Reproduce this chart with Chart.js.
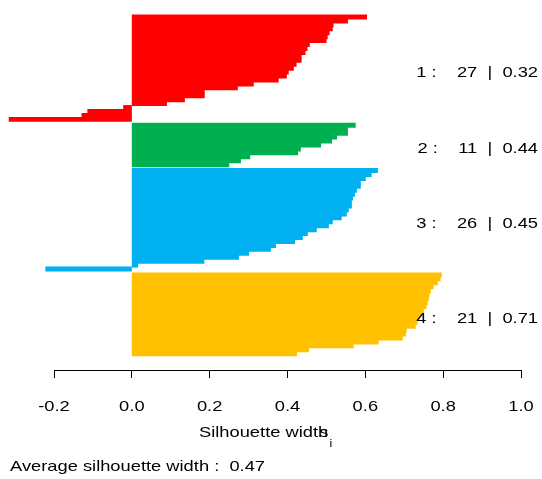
<!DOCTYPE html>
<html>
<head>
<meta charset="utf-8">
<script src="https://cdn.jsdelivr.net/npm/chart.js@4"></script>
<style>
  html, body { margin: 0; padding: 0; background: #fff; }
  canvas { display: block; }
</style>
</head>
<body>
<canvas id="sil" width="542" height="479"></canvas>
<script>
// silhouette widths per cluster, sorted as in the plot (top to bottom)
let clus1 = [0.603, 0.554, 0.517, 0.515, 0.507, 0.502, 0.499, 0.456, 0.450, 0.445, 0.435, 0.435, 0.422, 0.415,
    0.402, 0.397, 0.376, 0.312, 0.271, 0.186, 0.186, 0.135, 0.089, -0.021, -0.113, -0.128, -0.315];
let clus2 = [0.574, 0.554, 0.554, 0.526, 0.513, 0.485, 0.433, 0.426, 0.303, 0.279, 0.249];
let clus3 = [0.631, 0.615, 0.600, 0.587, 0.587, 0.577, 0.572, 0.567, 0.564, 0.564, 0.556, 0.551, 0.538, 0.515,
    0.505, 0.474, 0.451, 0.438, 0.418, 0.369, 0.356, 0.300, 0.274, 0.185, 0.015, -0.221];
let clus4 = [0.795, 0.792, 0.785, 0.774, 0.767, 0.764, 0.762, 0.759, 0.756, 0.749, 0.744, 0.738, 0.733, 0.728,
    0.705, 0.703, 0.695, 0.633, 0.569, 0.454, 0.423];

let clusNames = ["1", "2", "3", "4"];
let clusAvg = ["0.32", "0.44", "0.45", "0.71"];
let clusColors = ["#FF0000", "#00B050", "#00B0F0", "#FFC000"];
let avgWidth = "0.47";
let xTicks = [-0.2, 0.0, 0.2, 0.4, 0.6, 0.8, 1.0];

let SX = 1.22;   // the reference text is drawn a bit wide
let FONT = '"Liberation Sans", Arial, Helvetica, sans-serif';

// bar positions: one unit per bar, half a unit between clusters
let allClus = [clus1, clus2, clus3, clus4];
let datasets = [];
let centers = [];
let pos = 0;
allClus.forEach((vals, k) => {
    if (k > 0) pos += 0.5;
    let start = pos;
    let pts = vals.map(v => {
        let p = {x: v, y: pos + 0.5};
        pos += 1;
        return p;
    });
    centers.push((start + pos) / 2);
    datasets.push({
        label: "Cluster " + clusNames[k],
        data: pts,
        backgroundColor: clusColors[k],
        borderWidth: 0,
        inflateAmount: 0.5,
        grouped: false,
        barPercentage: 1,
        categoryPercentage: 1,
        clip: false
    });
});

function wideText(ctx, s, x, y, align, size) {
    ctx.save();
    ctx.font = size + "px " + FONT;
    ctx.textAlign = align;
    ctx.textBaseline = "alphabetic";
    ctx.fillStyle = "#000";
    ctx.translate(x, y);
    ctx.scale(SX, 1);
    ctx.fillText(s, 0, 0);
    ctx.restore();
}

let textPlugin = {
    id: "silText",
    afterDraw(chart) {
        let ctx = chart.ctx;
        let xs = chart.scales.x, ys = chart.scales.y;

        // tick labels
        xTicks.forEach(t => {
            wideText(ctx, t.toFixed(1), xs.getPixelForValue(t), 411, "center", 15);
        });

        // cluster labels on the right
        centers.forEach((c, k) => {
            let y = ys.getPixelForValue(c) + 8.4;
            let s = clusNames[k] + " :    " + allClus[k].length + "  |  " + clusAvg[k];
            wideText(ctx, s, 538, y, "right", 15);
        });

        // axis title  "Silhouette width s_i"
        wideText(ctx, "Silhouette width", 199, 437, "left", 15);
        wideText(ctx, "s", 328.5, 437, "right", 15);
        wideText(ctx, "i", 329.5, 447, "left", 10);

        wideText(ctx, "Average silhouette width :  " + avgWidth, 10, 471, "left", 15);
    }
};

new Chart(document.getElementById("sil"), {
    type: "bar",
    data: { datasets: datasets },
    options: {
        indexAxis: "y",
        responsive: false,
        animation: false,
        devicePixelRatio: 1,
        layout: { padding: { left: 54, right: 21, top: 15, bottom: 101 } },
        plugins: {
            legend: { display: false },
            tooltip: { enabled: false }
        },
        scales: {
            y: {
                type: "linear",
                reverse: true,
                min: 0,
                max: 90.13,
                offset: false,
                display: false
            },
            x: {
                type: "linear",
                min: -0.2,
                max: 1.0,
                afterBuildTicks: axis => {
                    axis.ticks = xTicks.map(v => ({value: v}));
                },
                ticks: { display: false },
                grid: {
                    drawOnChartArea: false,
                    drawTicks: true,
                    tickLength: 8,
                    color: "#000",
                    lineWidth: 1
                },
                border: { display: true, color: "#000", width: 1 }
            }
        }
    },
    plugins: [textPlugin]
});
</script>
</body>
</html>
